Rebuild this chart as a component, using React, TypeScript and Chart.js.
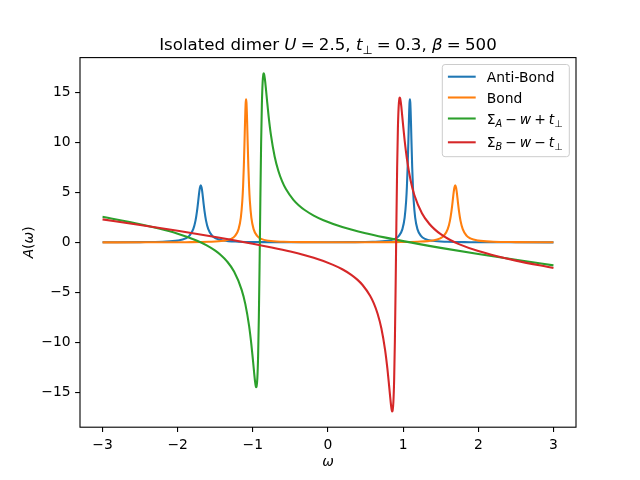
import React, { useEffect, useRef } from 'react';
import { Chart, registerables } from 'chart.js';

Chart.register(...registerables);

// ---- data ----
const antiBondX = [-3, -2.5, -2.2, -2.0, -1.893, -1.843, -1.793, -1.763, -1.743, -1.728, -1.713, -1.703, -1.693, -1.683, -1.673, -1.658, -1.643, -1.623, -1.593, -1.543, -1.493, -1.393, -1.193, -0.893, -0.5, 0, 0.29, 0.59, 0.79, 0.89, 0.94, 0.99, 1.02, 1.04, 1.05, 1.06, 1.07, 1.075, 1.08, 1.085, 1.09, 1.095, 1.1, 1.105, 1.11, 1.12, 1.13, 1.14, 1.16, 1.19, 1.24, 1.29, 1.39, 1.59, 1.89, 2.39, 3];
const antiBondY = [0.011, 0.027, 0.068, 0.179, 0.401, 0.676, 1.324, 2.176, 3.121, 4.057, 5.034, 5.518, 5.7, 5.518, 5.034, 4.057, 3.121, 2.176, 1.324, 0.676, 0.401, 0.188, 0.071, 0.031, 0.018, 0.018, 0.027, 0.061, 0.163, 0.357, 0.623, 1.328, 2.472, 4.155, 5.581, 7.611, 10.28, 11.72, 13.03, 13.96, 14.3, 13.96, 13.03, 11.72, 10.28, 7.611, 5.581, 4.155, 2.472, 1.328, 0.623, 0.357, 0.161, 0.058, 0.023, 0.009, 0.004];

const bondX = [-3, -2.39, -1.89, -1.59, -1.39, -1.29, -1.24, -1.19, -1.16, -1.14, -1.13, -1.12, -1.11, -1.105, -1.1, -1.095, -1.09, -1.085, -1.08, -1.075, -1.07, -1.06, -1.05, -1.04, -1.02, -0.99, -0.94, -0.89, -0.79, -0.59, -0.29, 0, 0.5, 0.893, 1.193, 1.393, 1.493, 1.543, 1.593, 1.623, 1.643, 1.658, 1.673, 1.683, 1.693, 1.703, 1.713, 1.728, 1.743, 1.763, 1.793, 1.843, 1.893, 2.0, 2.2, 2.5, 3];
const bondY = [0.004, 0.009, 0.023, 0.058, 0.161, 0.357, 0.623, 1.328, 2.472, 4.155, 5.581, 7.611, 10.28, 11.72, 13.03, 13.96, 14.3, 13.96, 13.03, 11.72, 10.28, 7.611, 5.581, 4.155, 2.472, 1.328, 0.623, 0.357, 0.163, 0.061, 0.027, 0.018, 0.018, 0.031, 0.071, 0.188, 0.401, 0.676, 1.324, 2.176, 3.121, 4.057, 5.034, 5.518, 5.7, 5.518, 5.034, 4.057, 3.121, 2.176, 1.324, 0.676, 0.401, 0.179, 0.068, 0.027, 0.011];

const sigmaAX = [-3, -2.5, -2.25, -2.0, -1.75, -1.62, -1.5, -1.42, -1.35, -1.25, -1.15, -1.1, -1.05, -1.02, -1.0, -0.985, -0.97, -0.96, -0.955, -0.95, -0.94, -0.93, -0.92, -0.91, -0.905, -0.9, -0.89, -0.88, -0.87, -0.86, -0.855, -0.85, -0.84, -0.825, -0.81, -0.79, -0.76, -0.71, -0.66, -0.61, -0.56, -0.46, -0.39, -0.31, -0.19, -0.06, 0.19, 0.5, 0.75, 1.0, 1.5, 2.0, 2.5, 3.0];
const sigmaAY = [2.552, 1.818, 1.385, 0.870, 0.198, -0.266, -0.821, -1.302, -1.836, -2.911, -4.709, -6.161, -8.336, -10.172, -11.653, -12.841, -13.919, -14.384, -14.460, -14.378, -13.526, -11.342, -7.430, -1.900, 1.207, 4.314, 9.844, 13.756, 15.940, 16.792, 16.874, 16.798, 16.333, 15.255, 14.067, 12.586, 10.750, 8.575, 7.123, 6.091, 5.325, 4.250, 3.716, 3.235, 2.680, 2.216, 1.544, 0.919, 0.501, 0.127, -0.545, -1.157, -1.737, -2.296];

const sigmaBX = [-3.0, -2.5, -2.0, -1.5, -1.0, -0.75, -0.5, -0.19, 0.06, 0.19, 0.31, 0.39, 0.46, 0.56, 0.61, 0.66, 0.71, 0.76, 0.79, 0.81, 0.825, 0.84, 0.85, 0.855, 0.86, 0.87, 0.88, 0.89, 0.9, 0.905, 0.91, 0.92, 0.93, 0.94, 0.95, 0.955, 0.96, 0.97, 0.985, 1.0, 1.02, 1.05, 1.1, 1.15, 1.25, 1.35, 1.42, 1.5, 1.62, 1.75, 2.0, 2.25, 2.5, 3];
const sigmaBY = [2.296, 1.737, 1.157, 0.545, -0.127, -0.501, -0.919, -1.544, -2.216, -2.680, -3.235, -3.716, -4.250, -5.325, -6.091, -7.123, -8.575, -10.750, -12.586, -14.067, -15.255, -16.333, -16.798, -16.874, -16.792, -15.940, -13.756, -9.844, -4.314, -1.207, 1.900, 7.430, 11.342, 13.526, 14.378, 14.460, 14.384, 13.919, 12.841, 11.653, 10.172, 8.336, 6.161, 4.709, 2.911, 1.836, 1.302, 0.821, 0.266, -0.198, -0.870, -1.385, -1.818, -2.552];

const xTicks = [-3, -2, -1, 0, 1, 2, 3];
const yTicks = [-15, -10, -5, 0, 5, 10, 15];
const xRange = [-3.3, 3.3];
const yRange = [-18.45, 18.45];

const seriesColors = ['#1f77b4', '#ff7f0e', '#2ca02c', '#d62728'];
const LINE_W = 2.08;

type Seg = { t: string; it?: boolean; sub?: boolean; gap?: number };

const FAMILY = '"DejaVu Sans"';

const titleSegs: Seg[] = [
  { t: 'Isolated dimer ' },
  { t: 'U', it: true },
  { t: '=', gap: 4.2 },
  { t: '2.5', gap: 4.2 },
  { t: ', ' },
  { t: 't', it: true },
  { t: '\u22A5', sub: true },
  { t: '=', gap: 4.2 },
  { t: '0.3', gap: 4.2 },
  { t: ', ' },
  { t: '\u03B2', it: true },
  { t: '=', gap: 4.2 },
  { t: '500', gap: 4.2 },
];

const legendSegs: Seg[][] = [
  [{ t: 'Anti-Bond' }],
  [{ t: 'Bond' }],
  [
    { t: '\u03A3' },
    { t: 'A', it: true, sub: true },
    { t: '\u2212', gap: 3 },
    { t: 'w', it: true, gap: 3 },
    { t: '+', gap: 3 },
    { t: 't', it: true, gap: 3 },
    { t: '\u22A5', sub: true },
  ],
  [
    { t: '\u03A3' },
    { t: 'B', it: true, sub: true },
    { t: '\u2212', gap: 3 },
    { t: 'w', it: true, gap: 3 },
    { t: '\u2212', gap: 3 },
    { t: 't', it: true, gap: 3 },
    { t: '\u22A5', sub: true },
  ],
];

const xLabelSegs: Seg[] = [{ t: '\u03C9', it: true }];
const yLabelSegs: Seg[] = [{ t: 'A', it: true }, { t: '(' }, { t: '\u03C9', it: true }, { t: ')' }];

function segFont(s: Seg, size: number) {
  const sz = s.sub ? size * 0.7 : size;
  return `${s.it ? 'italic ' : ''}${sz}px ${FAMILY}`;
}

function drawRich(ctx: CanvasRenderingContext2D, segs: Seg[], x: number, y: number, size: number, align: 'left' | 'center') {
  let total = 0;
  const widths: number[] = [];
  for (const s of segs) {
    ctx.font = segFont(s, size);
    const w = ctx.measureText(s.t).width;
    widths.push(w);
    total += (s.gap || 0) + w;
  }
  let cx = align === 'center' ? x - total / 2 : x;
  ctx.textAlign = 'left';
  ctx.textBaseline = 'alphabetic';
  segs.forEach((s, i) => {
    cx += s.gap || 0;
    ctx.font = segFont(s, size);
    ctx.fillText(s.t, cx, y + (s.sub ? size * 0.22 : 0));
    cx += widths[i];
  });
}

const decorPlugin = {
  id: 'decor',
  afterDatasetsDraw(chart: any) {
    const { ctx, chartArea: a } = chart;
    ctx.save();
    // spines
    ctx.strokeStyle = '#000';
    ctx.lineWidth = 1.1;
    ctx.strokeRect(a.left, a.top, a.right - a.left, a.bottom - a.top);

    // legend
    const bx = 442.3, by = 64.5, bw = 127, bh = 92.2, r = 2.8;
    ctx.beginPath();
    ctx.moveTo(bx + r, by);
    ctx.lineTo(bx + bw - r, by);
    ctx.quadraticCurveTo(bx + bw, by, bx + bw, by + r);
    ctx.lineTo(bx + bw, by + bh - r);
    ctx.quadraticCurveTo(bx + bw, by + bh, bx + bw - r, by + bh);
    ctx.lineTo(bx + r, by + bh);
    ctx.quadraticCurveTo(bx, by + bh, bx, by + bh - r);
    ctx.lineTo(bx, by + r);
    ctx.quadraticCurveTo(bx, by, bx + r, by);
    ctx.closePath();
    ctx.fillStyle = 'rgba(255,255,255,0.8)';
    ctx.fill();
    ctx.strokeStyle = '#cccccc';
    ctx.lineWidth = 1;
    ctx.stroke();

    const rowsY = [76.7, 97.5, 118.5, 142.3];
    rowsY.forEach((ry, i) => {
      ctx.strokeStyle = seriesColors[i];
      ctx.lineWidth = LINE_W;
      ctx.beginPath();
      ctx.moveTo(447.9, ry);
      ctx.lineTo(475.7, ry);
      ctx.stroke();
      ctx.fillStyle = '#000';
      drawRich(ctx, legendSegs[i], 486.8, ry + 5, 13.89, 'left');
    });

    // title
    ctx.fillStyle = '#000';
    drawRich(ctx, titleSegs, (a.left + a.right) / 2, 50, 16.67, 'center');

    // x label
    drawRich(ctx, xLabelSegs, (a.left + a.right) / 2, 466, 13.89, 'center');

    // y label
    ctx.save();
    ctx.translate(32.5, (a.top + a.bottom) / 2);
    ctx.rotate(-Math.PI / 2);
    drawRich(ctx, yLabelSegs, 0, 0, 13.89, 'center');
    ctx.restore();

    ctx.restore();
  },
};

const fmt = (v: number) => (v < 0 ? '\u2212' + Math.abs(v) : String(v));

export default function App() {
  const ref = useRef<HTMLCanvasElement>(null);
  useEffect(() => {
    const mk = (xs: number[], ys: number[]) => xs.map((x, i) => ({ x, y: ys[i] }));
    const ds = (label: string, xs: number[], ys: number[], color: string, order: number) => ({
      label,
      data: mk(xs, ys),
      borderColor: color,
      backgroundColor: color,
      borderWidth: LINE_W,
      showLine: true,
      pointRadius: 0,
      pointHoverRadius: 0,
      pointHitRadius: 0,
      cubicInterpolationMode: 'monotone' as const,
      borderJoinStyle: 'round' as const,
      borderCapStyle: 'butt' as const,
      order,
    });
    const tickFont = { family: 'DejaVu Sans', size: 13.89 };
    const grid = {
      display: true,
      drawOnChartArea: false,
      drawTicks: true,
      tickLength: 4.9,
      tickWidth: 1.1,
      tickColor: '#000',
      color: '#000',
      lineWidth: 1.1,
    };
    const chart = new Chart(ref.current!, {
      type: 'scatter',
      data: {
        datasets: [
          ds('Anti-Bond', antiBondX, antiBondY, seriesColors[0], 4),
          ds('Bond', bondX, bondY, seriesColors[1], 3),
          ds('SigmaA', sigmaAX, sigmaAY, seriesColors[2], 2),
          ds('SigmaB', sigmaBX, sigmaBY, seriesColors[3], 1),
        ],
      },
      options: {
        responsive: false,
        animation: false,
        devicePixelRatio: 1,
        events: [],
        layout: { padding: { left: 0, top: 57.6, right: 64, bottom: 0 } },
        plugins: { legend: { display: false }, title: { display: false }, tooltip: { enabled: false } },
        scales: {
          x: {
            type: 'linear',
            min: xRange[0],
            max: xRange[1],
            afterBuildTicks: (s: any) => {
              s.ticks = xTicks.map((v) => ({ value: v }));
            },
            afterFit: (s: any) => {
              s.height = 52.8;
            },
            ticks: { font: tickFont, color: '#000', padding: 4.5, maxRotation: 0, autoSkip: false, callback: (v: any) => fmt(Number(v)) },
            grid,
            border: { display: false },
          },
          y: {
            type: 'linear',
            min: yRange[0],
            max: yRange[1],
            afterBuildTicks: (s: any) => {
              s.ticks = yTicks.map((v) => ({ value: v }));
            },
            afterFit: (s: any) => {
              s.width = 80;
            },
            ticks: { font: tickFont, color: '#000', padding: 4.5, autoSkip: false, callback: (v: any) => fmt(Number(v)) },
            grid,
            border: { display: false },
          },
        },
      } as any,
      plugins: [decorPlugin],
    });
    return () => chart.destroy();
  }, []);
  return (
    <div style={{ position: 'absolute', left: 0, top: 0, width: 640, height: 480, background: '#fff' }}>
      <canvas ref={ref} width={640} height={480} style={{ display: 'block' }} />
    </div>
  );
}
